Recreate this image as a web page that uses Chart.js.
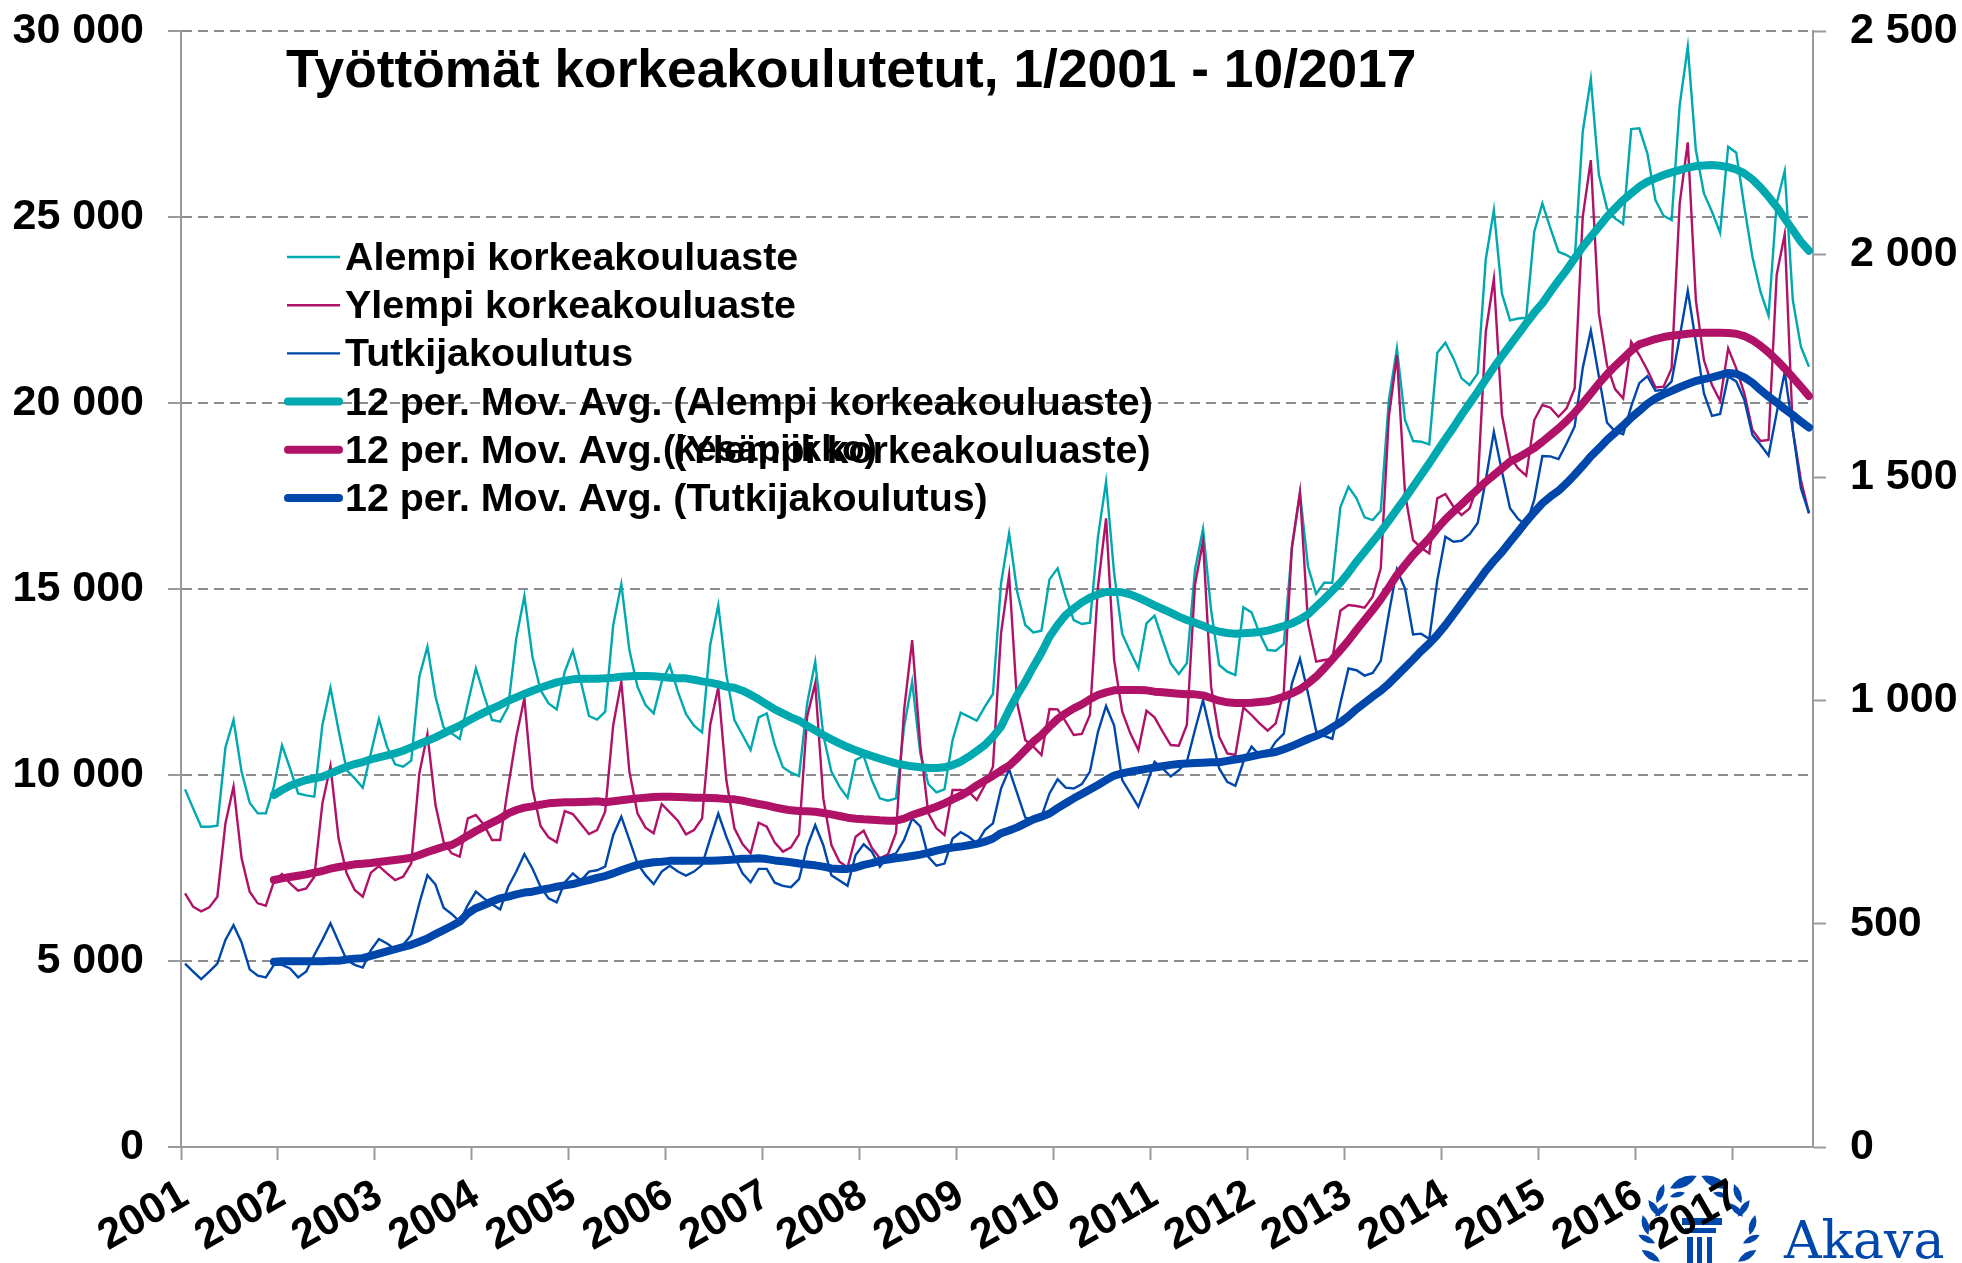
<!DOCTYPE html>
<html lang="fi">
<head>
<meta charset="UTF-8">
<title>Työttömät korkeakoulutetut</title>
<script src="https://cdn.jsdelivr.net/npm/chart.js@4/dist/chart.umd.js"></script>
<style>
  body { margin: 0; background: #fff; }
  canvas { display: block; }
</style>
</head>
<body>
<canvas id="chart" width="1962" height="1263"></canvas>
<script>
const titleText = 'Työttömät korkeakoulutetut, 1/2001 - 10/2017';
const strayLabel = '(kesäpiikko)';
const logoText = 'Akava';

const firstYear = 2001;
const monthCount = 202;

// monthly values, left axis
const alempi = [
  9614,9103,8610,8610,8637,10743,11478,10089,9256,8969,8969,9686,
  10797,10178,9506,9453,9417,11343,12347,11209,10134,9910,9659,10582,
  11504,10761,10286,10223,10385,12642,13449,12105,11280,11119,10967,11926,
  12867,12150,11478,11433,11836,13673,14811,13180,12284,11926,11765,12777,
  13342,12508,11586,11487,11702,14032,15134,13360,12374,11881,11657,12508,
  12956,12240,11639,11326,11146,13494,14569,12700,11478,11075,10672,11550,
  11657,10806,10206,10062,9973,11926,13046,11075,10089,9686,9390,10403,
  10510,9865,9372,9310,9372,11299,12508,10582,9758,9534,9614,10940,
  11675,11568,11460,11836,12177,15152,16496,14928,14032,13835,13880,15259,
  15555,14793,14166,14059,14095,16406,17885,15421,13790,13315,12867,14077,
  14283,13629,13002,12715,13002,15510,16612,14435,12957,12777,12688,14507,
  14372,13808,13360,13342,13521,16092,17571,15599,14865,15169,15169,17194,
  17750,17436,16925,16854,17105,20079,21468,19542,18977,18959,18888,21352,
  21620,21199,20662,20483,20796,23866,25187,22938,22222,22270,22290,24604,
  25366,24694,24066,23977,23842,27292,28708,26127,25231,24962,24810,27364,
  27382,26710,25455,25034,24918,28009,29577,26799,25634,25142,24577,26889,
  26728,25276,23932,22991,22346,25366,26235,22767,21513,20975
];
const ylempi = [
  6818,6460,6335,6442,6729,8700,9686,7759,6863,6550,6487,7132,
  7338,7087,6890,6953,7266,9238,10241,8297,7356,6908,6729,7374,
  7553,7356,7177,7266,7625,10044,11101,9193,8207,7894,7804,8835,
  8924,8656,8252,8252,9686,11030,12060,9641,8629,8324,8190,9032,
  8951,8682,8414,8521,9014,11344,12508,10089,8969,8584,8432,9220,
  8996,8772,8405,8521,8835,11344,12356,9865,8566,8145,7894,8718,
  8611,8181,7939,8055,8405,11568,12464,9372,8118,7670,7518,8342,
  8503,8046,7760,7867,8450,11747,13628,10806,8969,8566,8387,9596,
  9596,9552,9328,9731,10224,13808,15376,11926,10941,10761,10537,11774,
  11765,11434,11075,11102,11613,15062,16899,13091,11702,11120,10672,11729,
  11550,11165,10806,10788,11344,15107,16290,12374,11030,10582,10537,11819,
  11613,11389,11191,11388,12240,16137,17598,14076,13046,13091,13117,14417,
  14569,14542,14497,14793,15555,19631,21289,17571,16316,16110,15958,17436,
  17553,17212,16988,17167,17795,21916,23340,19676,18556,18243,18046,19542,
  19945,19873,19631,19855,20393,25007,26530,22409,21020,20375,20124,21647,
  21289,20886,20420,20438,20930,25366,27005,22767,21154,20482,20061,21468,
  20930,20258,19273,18977,19004,23439,24541,19273,17929,17033
];
// monthly values, right axis
const tutkija = [
  411,393,376,393,411,464,497,458,398,384,380,408,
  408,400,380,393,430,464,501,460,419,408,402,441,
  466,456,443,453,475,546,609,588,536,522,505,542,
  572,557,544,532,583,617,656,624,583,557,548,593,
  613,597,617,620,628,699,740,688,635,609,589,617,
  630,617,608,617,632,691,747,695,650,613,593,623,
  623,592,585,582,600,673,721,676,609,597,585,654,
  678,662,628,652,658,688,736,718,650,630,635,691,
  705,695,680,710,725,803,846,792,738,733,740,792,
  824,805,803,813,841,930,988,944,822,792,762,811,
  863,848,830,844,863,934,1001,923,848,818,809,863,
  897,878,880,908,926,1038,1094,1016,932,921,914,994,
  1072,1068,1056,1062,1089,1195,1294,1251,1148,1150,1138,1270,
  1367,1356,1358,1373,1398,1494,1602,1513,1431,1407,1393,1450,
  1548,1547,1541,1576,1614,1745,1829,1726,1623,1603,1597,1659,
  1711,1727,1694,1696,1715,1815,1918,1804,1688,1638,1642,1726,
  1715,1674,1595,1573,1549,1644,1736,1606,1476,1420
];

// 12 month averages, they start in December 2001
const noAvg = [null,null,null,null,null,null,null,null,null,null,null];
const alempiAvg = noAvg.concat([
  9462,9596,9712,9793,9865,9910,9954,10044,10134,10223,10295,10349,10420,
  10474,10528,10582,10653,10743,10832,10922,11012,11119,11227,11325,11451,
  11568,11675,11783,11881,11998,12087,12177,12266,12347,12419,12490,12535,
  12571,12589,12589,12589,12598,12616,12643,12652,12661,12661,12652,12634,
  12616,12598,12598,12562,12517,12482,12437,12374,12347,12267,12159,12034,
  11899,11765,11657,11550,11460,11326,11200,11075,10958,10851,10752,10663,
  10582,10510,10439,10376,10313,10268,10233,10206,10188,10188,10206,10268,
  10358,10492,10645,10806,11030,11299,11747,12150,12509,12912,13288,13718,
  14032,14301,14480,14641,14767,14856,14919,14919,14910,14856,14767,14668,
  14560,14462,14363,14256,14166,14095,14014,13915,13853,13817,13799,13808,
  13826,13844,13880,13942,14005,14076,14184,14318,14524,14730,14954,15169,
  15438,15734,16003,16272,16540,16836,17141,17436,17750,18063,18377,18708,
  19031,19345,19676,19990,20303,20635,20957,21262,21558,21845,22140,22427,
  22678,22991,23287,23574,23887,24201,24470,24738,25007,25231,25455,25634,
  25814,25948,26038,26127,26199,26262,26324,26369,26387,26396,26378,26342,
  26280,26172,26011,25796,25545,25276,24962,24649,24335,24093
]);
const ylempiAvg = noAvg.concat([
  7177,7222,7257,7293,7329,7374,7419,7481,7526,7562,7598,7616,7634,
  7661,7688,7714,7741,7777,7849,7929,8001,8073,8118,8234,8369,
  8494,8611,8718,8826,8969,9059,9122,9157,9202,9238,9256,9265,
  9265,9274,9283,9292,9265,9292,9319,9346,9372,9390,9408,9417,
  9417,9408,9399,9390,9390,9381,9372,9354,9345,9310,9265,9220,
  9184,9130,9086,9050,9032,9023,9014,8978,8942,8898,8853,8826,
  8808,8799,8781,8772,8772,8826,8924,8996,9068,9148,9238,9345,
  9444,9570,9722,9850,9980,10120,10251,10448,10672,10896,11075,11299,
  11505,11657,11792,11899,12034,12150,12222,12276,12285,12285,12285,12276,
  12240,12222,12204,12186,12168,12168,12141,12070,11998,11953,11935,11935,
  11944,11962,11980,12033,12105,12195,12302,12463,12643,12867,13109,13360,
  13610,13897,14166,14435,14721,15044,15375,15644,15913,16137,16361,16630,
  16872,17078,17275,17481,17678,17884,18063,18243,18422,18530,18660,18790,
  18959,19138,19318,19515,19739,19990,20258,20527,20769,20993,21199,21405,
  21576,21647,21719,21773,21808,21835,21862,21880,21889,21889,21889,21880,
  21862,21800,21692,21540,21360,21154,20930,20688,20438,20187
]);
const tutkijaAvg = noAvg.concat([
  415,416,416,416,416,416,416,417,417,420,422,423,428,
  433,438,443,448,453,460,467,477,486,495,505,523,
  535,542,550,557,561,566,570,572,576,579,583,586,
  589,594,598,603,607,613,620,626,632,635,638,639,
  641,641,641,641,641,641,642,643,644,646,646,647,
  645,642,640,638,635,633,631,628,624,623,623,626,
  632,636,641,644,647,649,652,655,659,664,668,671,
  673,676,679,684,691,703,709,716,725,734,740,747,
  759,770,781,791,801,811,822,832,837,841,844,847,
  850,853,856,858,859,860,861,862,862,865,868,871,
  875,879,882,885,891,898,906,914,921,929,940,951,
  965,981,995,1009,1022,1038,1056,1074,1092,1111,1128,1147,
  1169,1193,1218,1242,1266,1291,1313,1333,1356,1378,1401,1422,
  1442,1457,1470,1487,1506,1526,1547,1565,1584,1600,1616,1634,
  1649,1665,1677,1686,1694,1702,1709,1716,1720,1724,1729,1734,
  1732,1724,1712,1696,1681,1668,1653,1640,1625,1612
]);

const TEAL = '#00a8b0';
const PINK = '#af1267';
const BLUE = '#0047ab';
const AXIS = '#9a9a9a';
const GRID = '#8c8c8c';
const FONT = '"Liberation Sans", Arial, sans-serif';

const labels = [];
for (let i = 0; i < monthCount; i++) {
  labels.push(i % 12 === 0 ? String(firstYear + i / 12) : '');
}

function thin(label, data, color, axis, order) {
  return { label, data, yAxisID: axis, order, borderColor: color, backgroundColor: color,
    borderWidth: 2.4, pointRadius: 0, tension: 0, spanGaps: false };
}
function thick(label, data, color, axis, order) {
  return { label, data, yAxisID: axis, order, borderColor: color, backgroundColor: color,
    borderWidth: 8, pointRadius: 0, tension: 0, spanGaps: false,
    borderCapStyle: 'round', borderJoinStyle: 'round' };
}

const spaced = v => String(v).replace(/\B(?=(\d{3})+$)/g, ' ');

// title, legend and the stray text box sit on top of the plot
const overlay = {
  id: 'overlay',
  afterDraw(chart) {
    const ctx = chart.ctx;
    ctx.save();
    ctx.fillStyle = '#000';
    ctx.textAlign = 'left';
    ctx.textBaseline = 'alphabetic';
    ctx.font = 'bold 53.3px ' + FONT;
    ctx.fillText(titleText, 286, 87);

    ctx.font = 'bold 39.4px ' + FONT;
    chart.data.datasets.forEach((ds, i) => {
      const y = 257 + i * 48.2;
      ctx.strokeStyle = ds.borderColor;
      ctx.lineWidth = ds.borderWidth;
      ctx.lineCap = ds.borderWidth > 3 ? 'round' : 'butt';
      ctx.beginPath();
      ctx.moveTo(ds.borderWidth > 3 ? 288 : 287, y);
      ctx.lineTo(ds.borderWidth > 3 ? 339 : 340, y);
      ctx.stroke();
      ctx.fillText(ds.label, 345, y + 13);
    });
    ctx.font = 'bold 37px ' + FONT;
    ctx.fillText(strayLabel, 663, 461);
    ctx.restore();
  }
};

// the Akava logo sits under the year labels
const leaves = [
  [510,265,590,228],[510,290,555,278],[470,310,492,252],[445,300,480,350],
  [465,350,505,310],[428,345,445,405],[415,405,465,430],[425,450,480,485]
];
const logo = {
  id: 'logo',
  beforeDraw(chart) {
    const ctx = chart.ctx;
    ctx.save();
    ctx.fillStyle = BLUE;
    const leaf = (x1, y1, x2, y2) => {
      const mx = (x1 + x2) / 2, my = (y1 + y2) / 2;
      const nx = -(y2 - y1) * 0.33, ny = (x2 - x1) * 0.33;
      ctx.beginPath();
      ctx.moveTo(x1, y1);
      ctx.quadraticCurveTo(mx + nx, my + ny, x2, y2);
      ctx.quadraticCurveTo(mx - nx, my - ny, x1, y1);
      ctx.fill();
    };
    leaves.forEach(l => {
      const x1 = 1500 + l[0] / 3, y1 = 1100 + l[1] / 3, x2 = 1500 + l[2] / 3, y2 = 1100 + l[3] / 3;
      leaf(x1, y1, x2, y2);
      leaf(3398 - x1, y1, 3398 - x2, y2);
    });
    ctx.fillRect(1682, 1218, 40, 7);
    ctx.fillRect(1685, 1228, 31, 5);
    ctx.fillRect(1687, 1237, 6, 26);
    ctx.fillRect(1697, 1237, 5, 26);
    ctx.fillRect(1707, 1237, 5, 26);
    ctx.font = '52px "DejaVu Serif", serif';
    ctx.textAlign = 'left';
    ctx.textBaseline = 'alphabetic';
    ctx.fillText(logoText, 1784, 1258);
    ctx.restore();
  }
};

new Chart(document.getElementById('chart').getContext('2d'), {
  type: 'line',
  plugins: [logo, overlay],
  data: {
    labels,
    datasets: [
      thin('Alempi korkeakouluaste', alempi, TEAL, 'y', 6),
      thin('Ylempi korkeakouluaste', ylempi, PINK, 'y', 5),
      thin('Tutkijakoulutus', tutkija, BLUE, 'y1', 4),
      thick('12 per. Mov. Avg. (Alempi korkeakouluaste)', alempiAvg, TEAL, 'y', 3),
      thick('12 per. Mov. Avg. (Ylempi korkeakouluaste)', ylempiAvg, PINK, 'y', 2),
      thick('12 per. Mov. Avg. (Tutkijakoulutus)', tutkijaAvg, BLUE, 'y1', 1)
    ]
  },
  options: {
    responsive: false,
    animation: false,
    layout: { padding: { top: 31, left: 0, right: 0, bottom: 0 } },
    plugins: { legend: { display: false }, title: { display: false }, tooltip: { enabled: false } },
    scales: {
      x: {
        offset: true,
        afterFit(s) { s.height = 116; },
        border: { color: AXIS, width: 2 },
        grid: {
          offset: true,
          drawOnChartArea: false,
          tickLength: 13,
          tickWidth: 2,
          tickColor: c => (c.index % 12 === 0 ? AXIS : 'rgba(0,0,0,0)')
        },
        ticks: {
          autoSkip: false,
          minRotation: 30,
          maxRotation: 30,
          padding: 10,
          color: '#000',
          font: { family: FONT, size: 43, weight: 'bold' }
        }
      },
      y: {
        position: 'left',
        min: 0,
        max: 30000,
        // tick padding would otherwise push the plot top down
        afterFit(s) { s.width = 181; s.paddingTop = 0; s.paddingBottom = 0; },
        border: { color: AXIS, width: 2, dash: c => (c.tick.value === 0 ? [] : [10, 6]) },
        grid: {
          color: c => (c.tick.value === 0 ? 'rgba(0,0,0,0)' : GRID),
          lineWidth: 2,
          tickLength: 13,
          tickWidth: 2,
          tickColor: AXIS,
          tickBorderDash: []
        },
        ticks: {
          stepSize: 5000,
          padding: 24,
          color: '#000',
          callback: spaced,
          font: { family: FONT, size: 43, weight: 'bold' }
        }
      },
      y1: {
        position: 'right',
        min: 0,
        max: 2500,
        afterFit(s) { s.width = 149; s.paddingTop = 0; s.paddingBottom = 0; },
        border: { color: AXIS, width: 2 },
        grid: {
          drawOnChartArea: false,
          tickLength: 13,
          tickWidth: 2,
          tickColor: AXIS
        },
        ticks: {
          stepSize: 500,
          padding: 24,
          color: '#000',
          callback: spaced,
          font: { family: FONT, size: 43, weight: 'bold' }
        }
      }
    }
  }
});
</script>
</body>
</html>
